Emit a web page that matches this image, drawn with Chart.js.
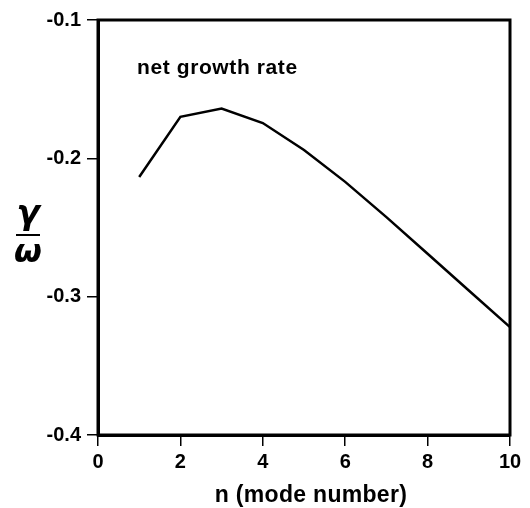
<!DOCTYPE html>
<html lang="en">
<head>
  <meta charset="UTF-8" />
  <title>net growth rate vs mode number</title>
  <script src="https://cdn.jsdelivr.net/npm/chart.js"></script>
  <style>
    html, body {
      margin: 0;
      padding: 0;
      background: #ffffff;
    }
    #wrap {
      width: 530px;
      height: 508px;
    }
  </style>
</head>
<body>
  <div id="wrap"><canvas id="growthChart"></canvas></div>

  <script>
    // data
    const modeNumbers = [1, 2, 3, 4, 5, 6, 7, 8, 9, 10];
    const growthRate = [-0.2135, -0.170, -0.164, -0.1745, -0.194, -0.217, -0.2425, -0.269, -0.2955, -0.322];
    const xTicks = [0, 2, 4, 6, 8, 10];
    const yTicks = [-0.4, -0.3, -0.2, -0.1];
    const curveLabel = "net growth rate";
    const xTitle = "n (mode number)";

    const tickFont = { family: "Liberation Sans, Arial, sans-serif", size: 20, weight: "bold" };

    // box around the plot + free text (curve label, axis titles)
    const frameAndText = {
      id: "frameAndText",
      afterDraw(chart) {
        const { ctx, chartArea: a } = chart;
        ctx.save();
        ctx.strokeStyle = "#000";
        ctx.lineWidth = 3;
        ctx.strokeRect(a.left, a.top, a.right - a.left, a.bottom - a.top);

        ctx.fillStyle = "#000";
        ctx.font = "bold 21px 'Liberation Sans', Arial, sans-serif";
        ctx.textBaseline = "alphabetic";
        ctx.textAlign = "left";
        ctx.letterSpacing = "0.6px";
        ctx.fillText(curveLabel, 137, 74);

        ctx.textAlign = "center";
        ctx.font = "bold 23px 'Liberation Sans', Arial, sans-serif";
        ctx.letterSpacing = "0.3px";
        ctx.fillText(xTitle, 311, 502);

        // gamma over omega
        ctx.letterSpacing = "0px";
        ctx.font = "italic bold 34px 'DejaVu Sans', sans-serif";
        ctx.fillText("\u03b3", 28, 224);
        ctx.font = "italic bold 32px 'DejaVu Sans', sans-serif";
        ctx.fillText("\u03c9", 28, 262);
        ctx.lineWidth = 2;
        ctx.beginPath();
        ctx.moveTo(16, 235);
        ctx.lineTo(40, 235);
        ctx.stroke();
        ctx.restore();
      }
    };

    new Chart(document.getElementById("growthChart"), {
      type: "line",
      data: {
        labels: modeNumbers,
        datasets: [{
          label: curveLabel,
          data: modeNumbers.map((n, i) => ({ x: n, y: growthRate[i] })),
          borderColor: "#000",
          borderWidth: 2.5,
          pointRadius: 0,
          tension: 0,
          fill: false
        }]
      },
      options: {
        responsive: true,
        maintainAspectRatio: false,
        animation: false,
        layout: { padding: { top: 20, right: 20, left: 0, bottom: 0 } },
        plugins: {
          legend: { display: false },
          tooltip: { enabled: false }
        },
        scales: {
          x: {
            type: "linear",
            min: 0,
            max: 10,
            afterFit: s => { s.height = 73; },
            afterBuildTicks: s => { s.ticks = xTicks.map(v => ({ value: v })); },
            grid: {
              drawOnChartArea: false,
              drawTicks: true,
              tickLength: 11,
              color: "#000",
              lineWidth: 1.5
            },
            border: { display: true, color: "#000", width: 3 },
            ticks: {
              color: "#000",
              font: tickFont,
              padding: 4,
              maxRotation: 0,
              autoSkip: false,
              callback: v => String(v)
            }
          },
          y: {
            min: -0.4,
            max: -0.1,
            afterFit: s => { s.width = 98; },
            afterBuildTicks: s => { s.ticks = yTicks.map(v => ({ value: v })); },
            grid: {
              drawOnChartArea: false,
              drawTicks: true,
              tickLength: 11,
              color: "#000",
              lineWidth: 1.5
            },
            border: { display: true, color: "#000", width: 3 },
            ticks: {
              color: "#000",
              font: tickFont,
              padding: 6,
              autoSkip: false,
              callback: v => v.toFixed(1)
            }
          }
        }
      },
      plugins: [frameAndText]
    });
  </script>
</body>
</html>
